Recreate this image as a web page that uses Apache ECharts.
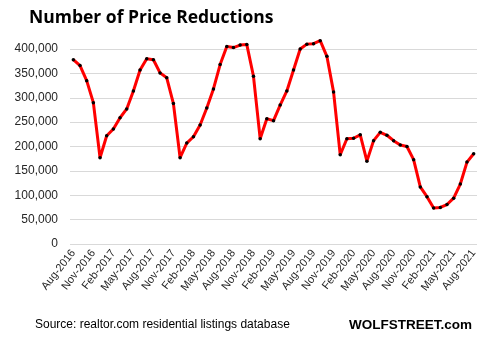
<!DOCTYPE html>
<html><head><meta charset="utf-8">
<script src="https://cdn.jsdelivr.net/npm/echarts@6/dist/echarts.min.js"></script>
<style>html,body{margin:0;padding:0;background:#fff}#c{width:485px;height:337px}</style>
</head><body><div id="c"></div>
<script>
const months = ['Jan','Feb','Mar','Apr','May','Jun','Jul','Aug','Sep','Oct','Nov','Dec'];
const categories = [];
for (let y = 2016, m = 7; !(y === 2021 && m === 8); ) {
  categories.push(months[m] + '-' + y);
  m++; if (m === 12) { m = 0; y++; }
}
const priceReductions = [
  378000, 366000, 335000, 290000, 177000,
  222000, 236000, 259000, 277000, 314000, 357000, 380000, 378000, 351000, 341000, 288000, 177000,
  207000, 220000, 244000, 279000, 318000, 368000, 405000, 403000, 408000, 409000, 344000, 216000,
  257000, 253000, 285000, 314000, 357000, 400000, 410000, 411000, 417000, 385000, 312000, 183000,
  216000, 217000, 224000, 170000, 212000, 229000, 223000, 212000, 203000, 200000, 173000, 117000,
  97000, 74000, 75000, 81000, 94000, 123000, 168000, 185000
];
const titleText = 'Number of Price Reductions';
const sourceText = 'Source: realtor.com residential listings database';
const brandText = 'WOLFSTREET.com';

const chart = echarts.init(document.getElementById('c'), null, {renderer: 'canvas'});
chart.setOption({
  animation: false,
  backgroundColor: '#fff',
  title: [
    {text: titleText, left: 24, top: 4, textStyle: {fontFamily: 'Open Sans', fontWeight: 'bold', fontSize: 17.5, color: '#000'}},
    {text: sourceText, left: 30, top: 314, textStyle: {fontFamily: 'Liberation Sans', fontWeight: 'normal', fontSize: 12, color: '#000'}},
    {text: brandText, right: 8, top: 313, textStyle: {fontFamily: 'Liberation Sans', fontWeight: 'bold', fontSize: 13.5, color: '#000'}}
  ],
  grid: {left: 70, right: 8, top: 49, height: 195},
  xAxis: {
    type: 'category', data: categories, boundaryGap: true,
    axisLine: {show: false}, axisTick: {show: false},
    axisLabel: {interval: 2, rotate: 52, fontFamily: 'Liberation Sans', fontSize: 11, color: '#262626', margin: 7}
  },
  yAxis: {
    type: 'value', min: 0, max: 400000, interval: 50000,
    axisLine: {show: false}, axisTick: {show: false},
    splitLine: {lineStyle: {color: '#d9d9d9', width: 1}},
    axisLabel: {fontFamily: 'Liberation Sans', fontSize: 12, color: '#262626', margin: 12,
      formatter: v => v.toLocaleString('en-US')}
  },
  series: [{
    type: 'line', data: priceReductions, clip: false,
    lineStyle: {color: '#ff0000', width: 3},
    symbol: 'circle', symbolSize: 3.5,
    itemStyle: {color: '#000', borderWidth: 0}
  }]
});
</script></body></html>
